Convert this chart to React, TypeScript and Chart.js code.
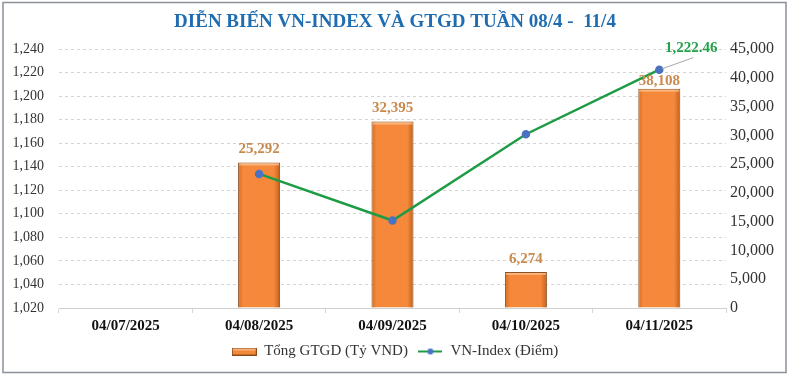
import React, { useEffect, useRef } from "react";
import { Chart, registerables } from "chart.js";

Chart.register(...registerables);

// ---- Data ----
const categories = ["04/07/2025", "04/08/2025", "04/09/2025", "04/10/2025", "04/11/2025"];
const gtgdValues: (number | null)[] = [null, 25292, 32395, 6274, 38108];
const vnIndexValues: (number | null)[] = [null, 1133.91, 1094.3, 1167.59, 1222.46];
const leftAxisRange = [1020, 1240];
const leftAxisStep = 20;
const rightAxisRange = [0, 45000];
const rightAxisStep = 5000;
const titleText = "DIỄN BIẾN VN-INDEX VÀ GTGD TUẦN 08/4 -  11/4";
const barLabel = "Tổng GTGD (Tỷ VND)";
const lineLabel = "VN-Index (Điểm)";

const SERIF = "'Liberation Serif', 'Times New Roman', serif";
const fmt = (v: number, d = 0) =>
  v.toLocaleString("en-US", { minimumFractionDigits: d, maximumFractionDigits: d });

export default function App() {
  const ref = useRef<HTMLCanvasElement | null>(null);

  useEffect(() => {
    document.body.style.margin = "0";
    const canvas = ref.current!;

    const barIcon = document.createElement("canvas");
    barIcon.width = 25;
    barIcon.height = 8;
    {
      const c = barIcon.getContext("2d")!;
      c.fillStyle = "#8a4a1c";
      c.fillRect(0, 0, 25, 8);
      c.fillStyle = "#f28a3a";
      c.fillRect(1, 1, 23, 6);
      c.fillStyle = "#f9b27a";
      c.fillRect(1, 1, 23, 2);
    }
    const lineIcon = document.createElement("canvas");
    lineIcon.width = 24;
    lineIcon.height = 8;
    {
      const c = lineIcon.getContext("2d")!;
      c.strokeStyle = "#1e9b45";
      c.lineWidth = 2;
      c.beginPath();
      c.moveTo(0, 4);
      c.lineTo(24, 4);
      c.stroke();
      c.fillStyle = "#4a72c0";
      c.beginPath();
      c.arc(12, 4, 3, 0, Math.PI * 2);
      c.fill();
    }

    const framePlugin = {
      id: "frame",
      beforeDraw(chart: any) {
        const c = chart.ctx;
        c.save();
        c.fillStyle = "#ffffff";
        c.fillRect(0, 0, chart.width, chart.height);
        c.strokeStyle = "#8c9199";
        c.lineWidth = 1.5;
        c.strokeRect(3, 2.5, chart.width - 7, chart.height - 6);
        c.restore();
      },
    };

    const bevelPlugin = {
      id: "bevel",
      afterDatasetDraw(chart: any, args: any) {
        if (args.index !== 0) return;
        const c = chart.ctx;
        const meta = chart.getDatasetMeta(0);
        meta.data.forEach((el: any, i: number) => {
          if (gtgdValues[i] == null) return;
          const { x, y, base, width } = el.getProps(["x", "y", "base", "width"], true);
          const l = x - width / 2;
          const r = x + width / 2;
          c.save();
          const g = c.createLinearGradient(l, 0, r, 0);
          g.addColorStop(0, "rgba(150,60,0,0.35)");
          g.addColorStop(0.12, "rgba(150,60,0,0)");
          g.addColorStop(0.85, "rgba(150,60,0,0)");
          g.addColorStop(1, "rgba(110,40,0,0.45)");
          c.fillStyle = g;
          c.fillRect(l + 1, y + 1, width - 2, base - y - 1);
          c.fillStyle = "rgba(255,220,180,0.55)";
          c.fillRect(l + 1, y + 1, width - 2, 2);
          c.restore();
        });
      },
    };

    const labelPlugin = {
      id: "valueLabels",
      afterDatasetsDraw(chart: any) {
        const c = chart.ctx;
        c.save();
        c.font = `bold 15px ${SERIF}`;
        c.textAlign = "center";
        c.textBaseline = "middle";
        const barMeta = chart.getDatasetMeta(0);
        const lineMeta = chart.getDatasetMeta(1);
        barMeta.data.forEach((el: any, i: number) => {
          const v = gtgdValues[i];
          if (v == null) return;
          let ly = el.y - 13;
          const p = lineMeta.data[i];
          if (p && vnIndexValues[i] != null && Math.abs(p.y - ly) < 10) ly = el.y - 8;
          c.fillStyle = "#c98a4e";
          c.fillText(fmt(v), el.x, ly);
        });
        const last = vnIndexValues.length - 1;
        const pt = lineMeta.data[last];
        const v = vnIndexValues[last];
        if (pt && v != null) {
          c.strokeStyle = "#a8a8a8";
          c.lineWidth = 1;
          c.beginPath();
          c.moveTo(pt.x + 3, pt.y - 1);
          c.lineTo(pt.x + 34, pt.y - 12);
          c.stroke();
          c.fillStyle = "#24a14a";
          c.fillText(fmt(v, 2), pt.x + 32, pt.y - 22);
        }
        c.restore();
      },
    };

    const chart = new Chart(canvas, {
      data: {
        labels: categories,
        datasets: [
          {
            type: "bar",
            label: barLabel,
            data: gtgdValues,
            yAxisID: "y1",
            backgroundColor: "#f5883a",
            borderColor: "#8a4a1c",
            borderWidth: 1,
            barPercentage: 0.315,
            categoryPercentage: 1,
            order: 1,
          },
          {
            type: "line",
            label: lineLabel,
            data: vnIndexValues,
            yAxisID: "y",
            borderColor: "#1e9b45",
            borderWidth: 2.5,
            pointRadius: 3,
            pointBackgroundColor: "#4a72c0",
            pointBorderColor: "#4a72c0",
            tension: 0,
            order: 0,
          },
        ],
      } as any,
      options: {
        animation: false,
        responsive: false,
        maintainAspectRatio: false,
        layout: { padding: { left: 4, right: 4, top: 0, bottom: 7 } },
        plugins: {
          title: {
            display: true,
            text: titleText,
            color: "#1f6db0",
            font: { family: SERIF, size: 19, weight: "bold" },
            padding: { top: 11, bottom: 15.2 },
          },
          legend: {
            display: true,
            position: "bottom",
            labels: {
              usePointStyle: true,
              pointStyleWidth: 25,
              padding: 10,
              color: "#333333",
              font: { family: SERIF, size: 15 },
              generateLabels: () => [
                { text: barLabel, pointStyle: barIcon, fillStyle: "#f5883a", strokeStyle: "#8a4a1c", lineWidth: 0, hidden: false, datasetIndex: 0, fontColor: "#333333" },
                { text: lineLabel, pointStyle: lineIcon, fillStyle: "#1e9b45", strokeStyle: "#1e9b45", lineWidth: 0, hidden: false, datasetIndex: 1, fontColor: "#333333" },
              ] as any,
            },
          },
          tooltip: { enabled: false },
        },
        scales: {
          x: {
            offset: true,
            grid: { drawOnChartArea: false, drawTicks: true, tickLength: 5, color: "#d6d6d6" },
            border: { display: true, color: "#d0d0d0" },
            ticks: { color: "#111111", padding: 4, font: { family: SERIF, size: 15, weight: "bold" } },
            afterFit: (s: any) => { s.height = 26; },
          },
          y: {
            position: "left",
            min: leftAxisRange[0],
            max: leftAxisRange[1],
            ticks: {
              stepSize: leftAxisStep,
              color: "#333333",
              padding: 15,
              font: { family: SERIF, size: 14 },
              callback: (v: any) => fmt(Number(v)),
            },
            grid: { color: "#d4d4d4", drawTicks: false },
            border: { display: false, dash: [3, 3] },
            afterFit: (s: any) => { s.width = 55; },
          },
          y1: {
            position: "right",
            min: rightAxisRange[0],
            max: rightAxisRange[1],
            ticks: {
              stepSize: rightAxisStep,
              color: "#333333",
              padding: 4,
              font: { family: SERIF, size: 16 },
              callback: (v: any) => fmt(Number(v)),
            },
            grid: { drawOnChartArea: false, drawTicks: false },
            border: { display: false },
            afterFit: (s: any) => { s.width = 60; },
          },
        },
      } as any,
      plugins: [framePlugin, bevelPlugin, labelPlugin],
    });

    return () => chart.destroy();
  }, []);

  return <canvas ref={ref} width={790} height={376} style={{ display: "block", width: 790, height: 376 }} />;
}
